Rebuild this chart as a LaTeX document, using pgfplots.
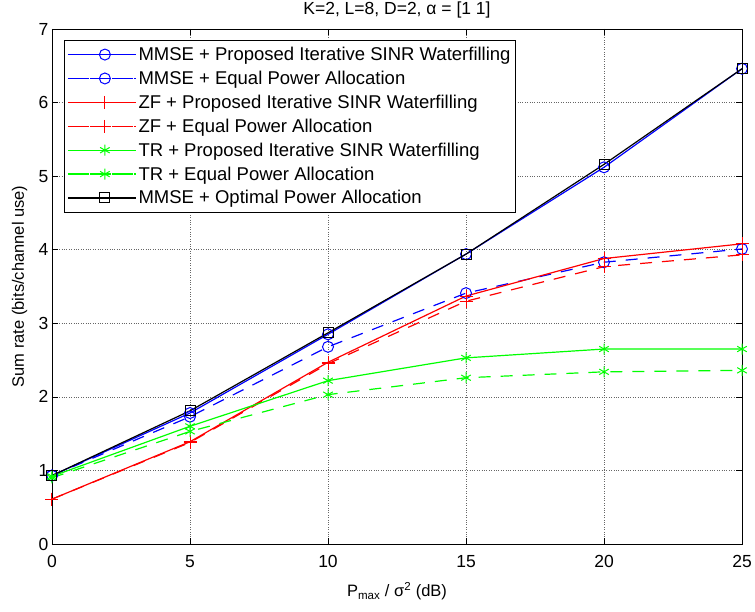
\documentclass[border=0pt]{standalone}
\usepackage{fontspec}
\setmainfont{Liberation Sans}
\usepackage{pgfplots}
\pgfplotsset{compat=1.18}

% MATLAB-ish colours
\definecolor{mblue}{rgb}{0,0,1}
\definecolor{mred}{rgb}{1,0,0}
\definecolor{mgreen}{rgb}{0,1,0}

\begin{document}
\begin{tikzpicture}
  \useasboundingbox (-52pt,-68pt) rectangle (703pt,544pt);
  \begin{axis}[
      scale only axis,
      width=690pt, height=515pt,
      at={(0pt,0pt)}, anchor=south west,
      xmin=0, xmax=25, ymin=0, ymax=7,
      xtick={0,5,...,25}, ytick={0,1,...,7},
      grid=major,
      major grid style={black!60, dotted, line width=0.6pt},
      axis line style={black, line width=0.6pt},
      tick align=inside,
      major tick length=6pt,
      tick style={black, line width=0.6pt},
      /pgf/number format/assume math mode=true,
      tick label style={font=\fontsize{17.5}{20}\selectfont},
      xticklabel style={anchor=base, yshift=-24pt},
      label style={font=\fontsize{16.5}{19}\selectfont},
      xlabel={P\textsubscript{max} / σ\textsuperscript{2} (dB)},
      ylabel={Sum rate (bits/channel use)},
      xlabel style={at={(axis description cs:0.5,0)}, anchor=base, yshift=-53pt},
      ylabel style={at={(axis description cs:0,0.5)}, anchor=base, yshift=28pt},
      title={K=2, L=8, D=2, α = [1 1]},
      title style={font=\fontsize{17.5}{21}\selectfont, at={(axis description cs:0.5,1)}, anchor=base, yshift=8pt},
      legend cell align=left,
      legend style={
        at={(0.0174,0.979)}, anchor=north west,
        font=\fontsize{18.5}{21}\selectfont,
        draw=black, line width=0.6pt,
        row sep=5pt, inner xsep=3pt, inner ysep=5pt,
      },
      legend image code/.code={
        \path (-9pt,0pt) -- (59pt,0pt);
        \draw[mark repeat=2, mark phase=2, #1]
          plot coordinates {(0pt,0pt) (28pt,0pt) (56pt,0pt)};
      },
    ]
    % MMSE + proposed
    \addplot[mblue, line width=1.2pt, mark=o, mark size=5.5pt, mark options={solid, line width=1pt}]
      coordinates {(0,0.93) (5,1.78) (10,2.85) (15,3.94) (20,5.12) (25,6.46)};
    \addlegendentry{MMSE + Proposed Iterative SINR Waterfilling}
    % MMSE + equal
    \addplot[mblue, line width=1.2pt, dash pattern=on 12pt off 10pt, mark=o, mark size=5.5pt, mark options={solid, line width=1pt}]
      coordinates {(0,0.93) (5,1.73) (10,2.68) (15,3.41) (20,3.83) (25,4.01)};
    \addlegendentry{MMSE + Equal Power Allocation}
    % ZF + proposed
    \addplot[mred, line width=1.2pt, mark=+, mark size=6.5pt, mark options={solid, line width=1pt}]
      coordinates {(0,0.61) (5,1.39) (10,2.47) (15,3.37) (20,3.88) (25,4.08)};
    \addlegendentry{ZF + Proposed Iterative SINR Waterfilling}
    % ZF + equal
    \addplot[mred, line width=1.2pt, dash pattern=on 12pt off 10pt, mark=+, mark size=6.5pt, mark options={solid, line width=1pt}]
      coordinates {(0,0.61) (5,1.38) (10,2.45) (15,3.30) (20,3.77) (25,3.93)};
    \addlegendentry{ZF + Equal Power Allocation}
    % TR + proposed
    \addplot[mgreen, line width=1.2pt, mark=asterisk, mark size=5.5pt, mark options={solid, line width=1pt}]
      coordinates {(0,0.92) (5,1.60) (10,2.22) (15,2.53) (20,2.65) (25,2.65)};
    \addlegendentry{TR + Proposed Iterative SINR Waterfilling}
    % TR + equal
    \addplot[mgreen, line width=1.2pt, dash pattern=on 12pt off 10pt, mark=asterisk, mark size=5.5pt, mark options={solid, line width=1pt}]
      coordinates {(0,0.90) (5,1.53) (10,2.03) (15,2.26) (20,2.34) (25,2.36)};
    \addlegendentry{TR + Equal Power Allocation}
    % MMSE + optimal
    \addplot[black, line width=1.2pt, mark=square, mark size=5pt, mark options={solid, line width=1pt}]
      coordinates {(0,0.93) (5,1.81) (10,2.87) (15,3.94) (20,5.16) (25,6.46)};
    \addlegendentry{MMSE + Optimal Power Allocation}
  \end{axis}
\end{tikzpicture}
\end{document}
